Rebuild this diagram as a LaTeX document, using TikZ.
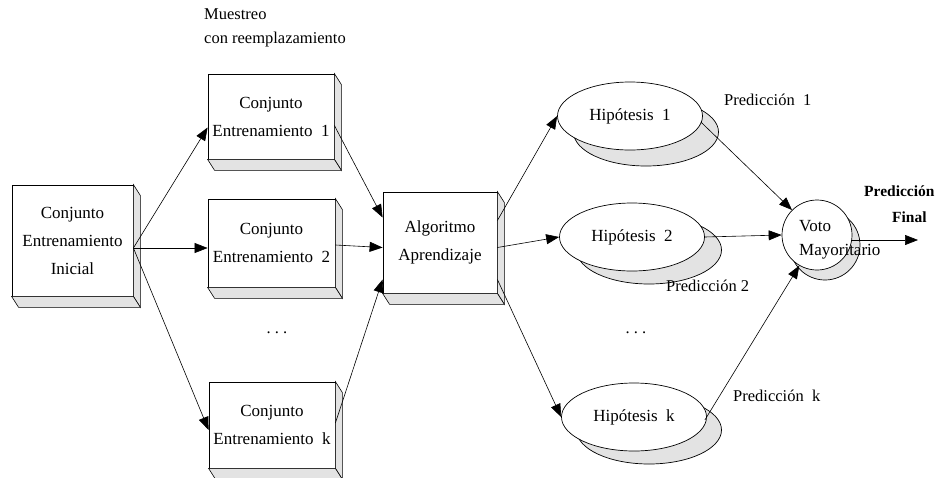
\documentclass[tikz,border=0pt]{standalone}
\usepackage{fontspec}
\setmainfont{Liberation Serif}
\usetikzlibrary{shapes.geometric,arrows.meta,calc}
\newcommand{\cubebox}[6]{%
  \node[box, minimum width=#4pt, minimum height=#5pt] (#1) at (#2,#3) {#6};
  \draw[side] (#1.north east) -- ++(7,11) -- ($(#1.south east)+(7,11)$) -- (#1.south east) -- cycle;
  \draw[side] (#1.south west) -- ++(7,11) -- ($(#1.south east)+(7,11)$) -- (#1.south east) -- cycle;
}
\begin{document}
\begin{tikzpicture}[x=1pt,y=-1pt,
  txt/.style={font=\fontsize{17}{28}\selectfont, align=center},
  box/.style={draw, fill=white, line width=0.8pt, inner sep=0pt, txt},
  side/.style={draw, fill=gray!22, line width=0.6pt},
  hyp/.style={ellipse, draw, fill=white, line width=0.7pt, minimum width=145pt, minimum height=68pt, inner sep=0pt, txt},
  hshadow/.style={ellipse, draw, fill=gray!22, line width=0.7pt, minimum width=145pt, minimum height=68pt, inner sep=0pt},
  lbl/.style={font=\fontsize{16.5}{28}\selectfont, inner sep=0pt},
  arr/.style={-{Triangle[length=13pt,width=10pt]}, line width=0.6pt},
]
\useasboundingbox (0,0) rectangle (940,477);

% boxes
\cubebox{ini}{72.5}{240.5}{121}{111}{Conjunto\\Entrenamiento\\Inicial}
\cubebox{c1}{271}{116.5}{126}{85}{Conjunto\\Entrenamiento\ \ 1}
\cubebox{c2}{271.5}{243}{127}{88}{Conjunto\\Entrenamiento\ \ 2}
\cubebox{ck}{272}{425}{126}{86}{Conjunto\\Entrenamiento\ \ k}
\cubebox{alg}{440}{242.5}{114}{101}{Algoritmo\\Aprendizaje}

% hypotheses
\node[hshadow] (h1s) at (646,132) {};
\node[hyp] (h1) at (630,116) {Hipótesis\ \ 1};
\node[hshadow] (h2s) at (649,250) {};
\node[hyp] (h2) at (632,237) {Hipótesis\ \ 2};
\node[hshadow] (hks) at (649,430) {};
\node[hyp] (hk) at (634,417) {Hipótesis\ \ k};

% vote
\node[circle, draw, fill=gray!22, line width=0.7pt, minimum size=70pt, inner sep=0pt] (vs) at (825,245) {};
\node[circle, draw, fill=white, line width=0.7pt, minimum size=70pt, inner sep=0pt] (voto) at (817,235) {};
\node[lbl, align=left, anchor=west, font=\fontsize{17}{24}\selectfont] (votol) at (799,240) {Voto\\Mayoritario};

% labels
\node[lbl, anchor=base west] (mu1) at (204,19) {Muestreo};
\node[lbl, anchor=base west] (mu2) at (204,43) {con reemplazamiento};
\node[lbl, anchor=base west] (p1) at (724,105) {Predicción\ \ 1};
\node[lbl, anchor=base west] (p2) at (666,291) {Predicción 2};
\node[lbl, anchor=base west] (pk) at (733,401) {Predicción\ \ k};
\node[lbl, font=\bfseries\fontsize{15.5}{26}\selectfont, align=left, anchor=west] (pf) at (864,204) {Predicción\\\hspace*{28pt}Final};
\node[lbl] (d1) at (277,333) {.\ .\ .};
\node[lbl] (d2) at (636,333) {.\ .\ .};

% connectors
\coordinate (iniout) at ($(ini.east)+(0,7.5)$);
\draw[arr] (iniout) -- ($(c1.west)+(0,11)$);
\draw[arr] (iniout) -- (c2.west |- iniout);
\draw[arr] (iniout) -- ($(ck.west)+(0,5)$);

\draw[arr] ($(c1.east)+(0,9)$) -- ($(alg.west)+(0,-25)$);
\draw[arr] ($(c2.east)+(0,2)$) -- ($(alg.west)+(0,5)$);
\draw[arr] ($(ck.east)+(0,-2)$) -- ($(alg.west)+(0,37)$);

\draw[arr] ($(alg.east)+(0,-22)$) -- (h1.west);
\draw[arr] ($(alg.east)+(0,5)$) -- (h2.west);
\draw[arr] ($(alg.east)+(0,37)$) -- (hk.west);

\draw[arr] ($(h1.east)+(-2,6)$) -- (voto.135);
\draw[arr] (h2.east) -- (voto.west);
\draw[arr] ($(hk.east)+(-2,3)$) -- (voto.240);

\coordinate (fin) at (918,240);
\draw[arr] (voto.east |- fin) -- (fin);
\end{tikzpicture}
\end{document}
